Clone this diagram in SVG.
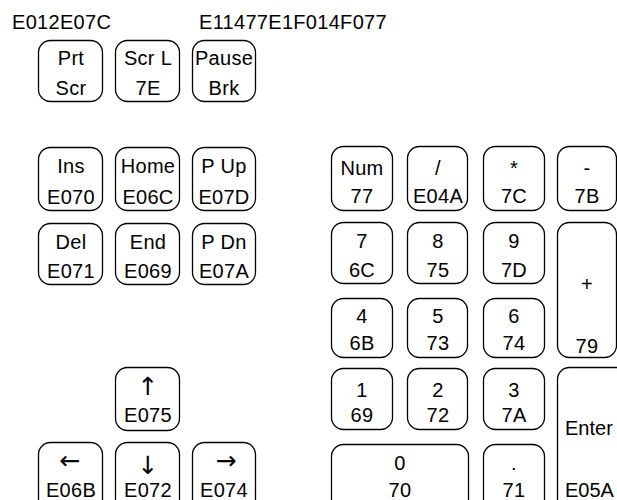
<svg xmlns="http://www.w3.org/2000/svg" width="617" height="500" viewBox="0 0 617 500">
<style>
.k{fill:#fff;stroke:#000;stroke-width:1.3}
text{font-family:"Liberation Sans",Arial,sans-serif;font-size:20px;fill:#000;letter-spacing:0.3px}
.c{text-anchor:middle}
.a{font-family:"DejaVu Sans",sans-serif;font-size:25px;letter-spacing:0}
.n{letter-spacing:0}
</style>
<rect width="617" height="500" fill="#fff"/>
<g id="labels">
<text x="12" y="29">E012E07C</text>
<text x="199" y="29">E11477E1F014F077</text>
</g>
<g id="key-prtscr"><rect class="k" x="38.5" y="40.5" width="64" height="61" rx="12"/><text class="c" x="71" y="65">Prt</text><text class="c" x="71" y="95">Scr</text></g>
<g id="key-scrl"><rect class="k" x="115.5" y="40.5" width="64" height="61" rx="12"/><text class="c" x="148" y="65">Scr L</text><text class="c" x="148" y="95">7E</text></g>
<g id="key-pause"><rect class="k" x="192.5" y="40.5" width="63" height="61" rx="12"/><text class="c" x="224" y="65">Pause</text><text class="c" x="224" y="95">Brk</text></g>

<g id="key-ins"><rect class="k" x="38.5" y="147.5" width="64" height="63" rx="12"/><text class="c" x="71" y="173">Ins</text><text class="c" x="71" y="204">E070</text></g>
<g id="key-home"><rect class="k" x="115.5" y="147.5" width="64" height="63" rx="12"/><text class="c" x="148" y="173">Home</text><text class="c" x="148" y="204">E06C</text></g>
<g id="key-pup"><rect class="k" x="192.5" y="147.5" width="63" height="63" rx="12"/><text class="c" x="224" y="173">P Up</text><text class="c" x="224" y="204">E07D</text></g>

<g id="key-del"><rect class="k" x="38.5" y="223.5" width="64" height="61" rx="12"/><text class="c" x="71" y="249">Del</text><text class="c" x="71" y="278">E071</text></g>
<g id="key-end"><rect class="k" x="115.5" y="223.5" width="64" height="61" rx="12"/><text class="c" x="148" y="249">End</text><text class="c" x="148" y="278">E069</text></g>
<g id="key-pdn"><rect class="k" x="192.5" y="223.5" width="63" height="61" rx="12"/><text class="c" x="224" y="249">P Dn</text><text class="c" x="224" y="278">E07A</text></g>

<g id="key-up"><rect class="k" x="115.5" y="367.5" width="64" height="63" rx="12"/><text class="c a" x="148" y="395">↑</text><text class="c" x="148" y="422">E075</text></g>
<g id="key-left"><rect class="k" x="38.5" y="442.5" width="64" height="70" rx="12"/><text class="c a" x="70" y="469">←</text><text class="c" x="71" y="497">E06B</text></g>
<g id="key-down"><rect class="k" x="115.5" y="442.5" width="64" height="70" rx="12"/><text class="c a" x="148" y="474">↓</text><text class="c" x="148" y="497">E072</text></g>
<g id="key-right"><rect class="k" x="192.5" y="442.5" width="63" height="70" rx="12"/><text class="c a" x="226" y="469">→</text><text class="c" x="224" y="497">E074</text></g>

<g id="key-num"><rect class="k" x="331.5" y="146.5" width="61" height="64" rx="12"/><text class="c" x="362" y="175">Num</text><text class="c" x="362" y="203">77</text></g>
<g id="key-div"><rect class="k" x="407.5" y="146.5" width="60" height="64" rx="12"/><text class="c" x="438" y="175">/</text><text class="c" x="438" y="203">E04A</text></g>
<g id="key-mul"><rect class="k" x="483.5" y="146.5" width="61" height="64" rx="12"/><text class="c" x="514" y="175">*</text><text class="c" x="514" y="203">7C</text></g>
<g id="key-minus"><rect class="k" x="557.5" y="146.5" width="59" height="64" rx="12"/><text class="c" x="587" y="175">-</text><text class="c" x="587" y="203">7B</text></g>

<g id="key-7"><rect class="k" x="331.5" y="222.5" width="61" height="61" rx="12"/><text class="c" x="362" y="248">7</text><text class="c" x="362" y="277">6C</text></g>
<g id="key-8"><rect class="k" x="407.5" y="222.5" width="60" height="61" rx="12"/><text class="c" x="438" y="248">8</text><text class="c" x="438" y="277">75</text></g>
<g id="key-9"><rect class="k" x="483.5" y="222.5" width="61" height="61" rx="12"/><text class="c" x="514" y="248">9</text><text class="c" x="514" y="277">7D</text></g>
<g id="key-plus"><rect class="k" x="557.5" y="222.5" width="59" height="135" rx="12"/><text class="c" x="587" y="291">+</text><text class="c" x="587" y="353">79</text></g>

<g id="key-4"><rect class="k" x="331.5" y="298.5" width="61" height="59" rx="12"/><text class="c" x="362" y="323">4</text><text class="c" x="362" y="350">6B</text></g>
<g id="key-5"><rect class="k" x="407.5" y="298.5" width="60" height="59" rx="12"/><text class="c" x="438" y="323">5</text><text class="c" x="438" y="350">73</text></g>
<g id="key-6"><rect class="k" x="483.5" y="298.5" width="61" height="59" rx="12"/><text class="c" x="514" y="323">6</text><text class="c" x="514" y="350">74</text></g>

<g id="key-1"><rect class="k" x="331.5" y="368.5" width="61" height="61" rx="12"/><text class="c" x="362" y="397">1</text><text class="c" x="362" y="422">69</text></g>
<g id="key-2"><rect class="k" x="407.5" y="368.5" width="60" height="61" rx="12"/><text class="c" x="438" y="397">2</text><text class="c" x="438" y="422">72</text></g>
<g id="key-3"><rect class="k" x="483.5" y="368.5" width="61" height="61" rx="12"/><text class="c" x="514" y="397">3</text><text class="c" x="514" y="422">7A</text></g>
<g id="key-enter"><rect class="k" x="557.5" y="367.5" width="80" height="150" rx="12"/><text class="n" x="565" y="435">Enter</text><text class="n" x="565" y="497">E05A</text></g>

<g id="key-0"><rect class="k" x="331.5" y="444.5" width="137" height="70" rx="12"/><text class="c" x="400" y="470">0</text><text class="c" x="400" y="497">70</text></g>
<g id="key-dot"><rect class="k" x="483.5" y="444.5" width="61" height="70" rx="12"/><text class="c" x="514" y="470">.</text><text class="c" x="514" y="497">71</text></g>
<g id="connectors"></g>
</svg>
